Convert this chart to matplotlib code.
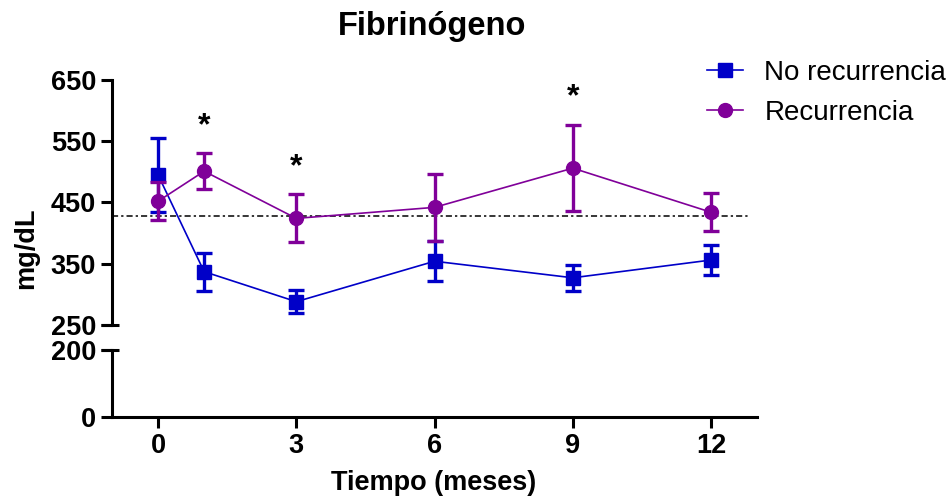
import matplotlib
matplotlib.use("Agg")
import matplotlib.pyplot as plt
import numpy as np

plt.rcParams['font.family'] = ['Liberation Sans', 'DejaVu Sans']

# datos (media +/- EEM)
meses = [0, 1, 3, 6, 9, 12]
no_rec_media = [495, 337, 288, 354, 327, 356]
no_rec_eem = [60, 31, 19, 33, 21, 24]
rec_media = [452, 501, 424, 442, 506, 434]
rec_eem = [31, 29, 39, 55, 70, 31]
signif_meses = [1, 3, 9]
ref_valor = 428
xticks = [0, 3, 6, 9, 12]
yticks_sup = [250, 350, 450, 550, 650]
yticks_inf = [0, 200]

azul = '#0000C8'
morado = '#800099'

fig = plt.figure(figsize=(9.53, 5.03), dpi=100)
ax_sup = fig.add_axes([0.1175, 0.354, 0.677, 0.487])
ax_inf = fig.add_axes([0.1175, 0.171, 0.677, 0.133], sharex=ax_sup)

lw_eje = 2.2
for ax in (ax_sup, ax_inf):
    for s in ['top', 'right']:
        ax.spines[s].set_visible(False)
    ax.spines['left'].set_linewidth(lw_eje)
    ax.spines['bottom'].set_linewidth(lw_eje)
    ax.tick_params(width=lw_eje, length=8, labelsize=19.5)

ax_sup.spines['bottom'].set_visible(False)
ax_sup.tick_params(axis='x', bottom=False, labelbottom=False)

# series
e1 = ax_sup.errorbar(meses, no_rec_media, yerr=no_rec_eem, color=azul, marker='s', markersize=10,
                     lw=1.2, elinewidth=2.4, capsize=5.5, capthick=2.4, zorder=3)
e2 = ax_sup.errorbar(meses, rec_media, yerr=rec_eem, color=morado, marker='o', markersize=10,
                     lw=1.2, elinewidth=2.4, capsize=5.5, capthick=2.4, zorder=4)

ax_sup.set_xlim(-1, 13)
ax_sup.set_ylim(250, 650)
ax_inf.set_ylim(0, 200)
ax_sup.set_yticks(yticks_sup)
ax_inf.set_yticks(yticks_inf)
ax_inf.set_xticks(xticks)
for lab in ax_sup.get_yticklabels() + ax_inf.get_yticklabels() + ax_inf.get_xticklabels():
    lab.set_fontweight('bold')

# linea de referencia
ax_sup.plot([-1, 12.85], [ref_valor, ref_valor], color='black', lw=1.1, ls='-.', dashes=(4, 2, 1.5, 2), zorder=2)

# asteriscos
for m in signif_meses:
    i = meses.index(m)
    ax_sup.text(m, rec_media[i] + rec_eem[i] + 45, '*', ha='center', va='center', fontsize=23, fontweight='bold')

# marcas de corte del eje
ax_sup.plot([-0.017, 0.011], [0, 0], transform=ax_sup.transAxes, color='black', lw=lw_eje, clip_on=False, solid_capstyle='butt')
ax_inf.plot([-0.017, 0.011], [1, 1], transform=ax_inf.transAxes, color='black', lw=lw_eje, clip_on=False, solid_capstyle='butt')

fig.text(0.453, 0.948, 'Fibrinógeno', ha='center', va='center', fontsize=23.5, fontweight='bold')
fig.text(0.455, 0.04, 'Tiempo (meses)', ha='center', va='center', fontsize=19.5, fontweight='bold')
fig.text(0.027, 0.506, 'mg/dL', ha='center', va='center', rotation=90, fontsize=19.5, fontweight='bold')

fig.legend([e1[0], e2[0]], ['No recurrencia', 'Recurrencia'], loc='upper left',
           bbox_to_anchor=(0.716, 0.93), frameon=False,
           fontsize=20, handlelength=1.3, labelspacing=0.5, handletextpad=0.75)

fig.savefig('out.png', dpi=100)
